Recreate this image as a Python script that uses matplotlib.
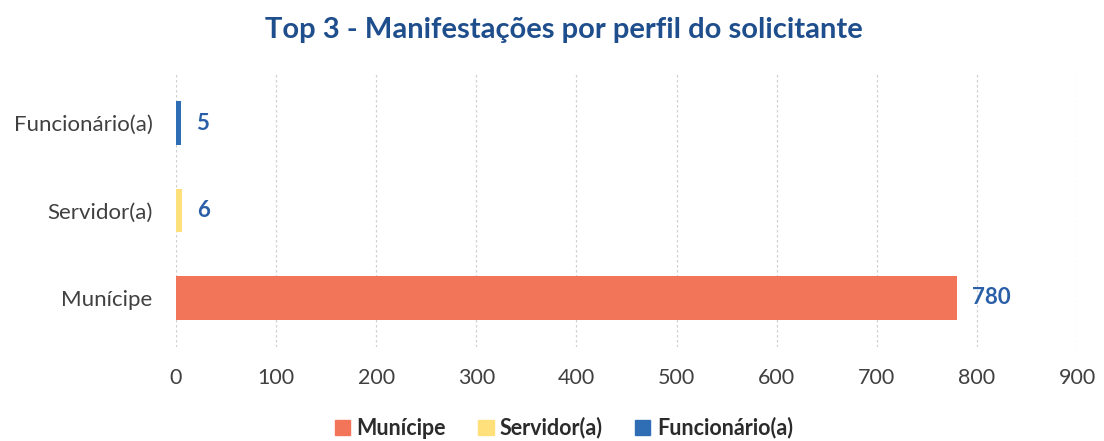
import matplotlib
matplotlib.use("Agg")
import matplotlib.pyplot as plt
from matplotlib.patches import Patch

categories = ["Munícipe", "Servidor(a)", "Funcionário(a)"]
values = [780, 6, 5]
colors = ["#F2755A", "#FFE07A", "#2F6DB5"]
xticks = [0, 100, 200, 300, 400, 500, 600, 700, 800, 900]

plt.rcParams['font.family'] = ['Lato', 'DejaVu Sans']

fig = plt.figure(figsize=(11.04, 4.41), dpi=100)
ax = fig.add_axes([176/1104, 1-347/441, (1077-176)/1104, (347-74)/441])

ypos = list(range(len(categories)))
ax.barh(ypos, values, height=0.5, color=colors, zorder=3)
for y, v in zip(ypos, values):
    ax.text(v + 15, y, str(v), va='center', ha='left', color="#2A5FA8",
            fontsize=16, fontweight='bold')

ax.set_xlim(0, 900)
ax.set_ylim(-0.56, 2.56)
ax.set_xticks(xticks)
ax.set_xticklabels([str(t) for t in xticks], fontsize=15.5, color="#404040")
ax.set_yticks(ypos)
ax.set_yticklabels(categories, fontsize=16, color="#404040")
ax.tick_params(axis='y', length=0, pad=17)
ax.tick_params(axis='x', length=0, pad=15)
ax.grid(axis='x', color="#D0D0D0", linestyle=(0, (2, 2)), linewidth=0.9, zorder=0)
for s in ax.spines.values():
    s.set_visible(False)

fig.text(0.511, 1-30/441, "Top 3 - Manifestações por perfil do solicitante",
         ha='center', va='center', fontsize=21, fontweight='bold', color="#1F4E8C")

handles = [Patch(color=c, label=l) for c, l in zip(colors, categories)]
fig.legend(handles=handles, loc='center', bbox_to_anchor=(564/1104, 1-428/441),
           ncol=3, frameon=False, handlelength=0.7, handleheight=0.7,
           handletextpad=0.3, columnspacing=1.5,
           prop={'size': 15.5, 'weight': 'bold'}, labelcolor="#2b2b2b")

fig.savefig("out.png", dpi=100)
